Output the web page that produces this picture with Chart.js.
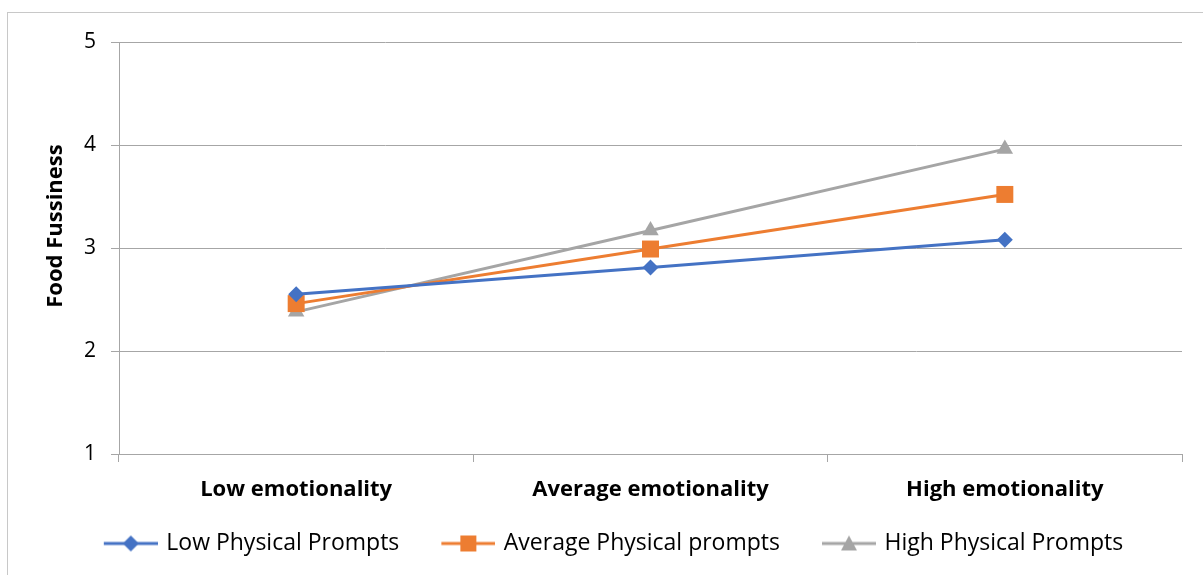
<!DOCTYPE html>
<html>
<head>
<meta charset="utf-8">
<script src="https://cdn.jsdelivr.net/npm/chart.js@4.4.1/dist/chart.umd.min.js"></script>
<style>
  body { margin: 0; background: #fff; }
  #frame { position: absolute; left: 7px; top: 12px; width: 1200px; height: 570px; border: 1px solid #c8c8c8; }
  #wrap { position: absolute; left: 0; top: 0; width: 1203px; height: 575px; }
</style>
</head>
<body>
<div id="frame"></div>
<div id="wrap"><canvas id="chart"></canvas></div>
<script>
const categories = ["Low emotionality", "Average emotionality", "High emotionality"];
const lowPhysical = [2.55, 2.81, 3.08];
const averagePhysical = [2.46, 2.99, 3.52];
const highPhysical = [2.38, 3.17, 3.96];
const yTicks = [1, 2, 3, 4, 5];
const seriesNames = ["Low Physical Prompts", "Average Physical prompts", "High Physical Prompts"];
const yTitle = "Food Fussiness";

const colors = ["#4472C4", "#ED7D31", "#A5A5A5"];
const markers = ["rectRot", "rect", "triangle"];
const markerSizes = [8, 12, 9.5];
const gridColor = "#a6a6a6";
const fontFamily = "'Open Sans', sans-serif";

// line + marker icons for the legend, with some blank space on the left
// so the items sit further apart than labels.padding alone would give
const iconGap = 27;
function legendIcon(color, shape) {
  const c = document.createElement("canvas");
  c.width = 54 + iconGap; c.height = 20;
  const g = c.getContext("2d");
  g.translate(iconGap, 0);
  g.strokeStyle = color; g.fillStyle = color; g.lineWidth = 3;
  g.beginPath(); g.moveTo(0, 10); g.lineTo(54, 10); g.stroke();
  g.beginPath();
  if (shape === "rectRot") {
    g.moveTo(27, 2); g.lineTo(35, 10); g.lineTo(27, 18); g.lineTo(19, 10);
  } else if (shape === "rect") {
    g.rect(19, 2, 16, 16);
  } else {
    g.moveTo(27, 2); g.lineTo(35, 17); g.lineTo(19, 17);
  }
  g.closePath(); g.fill();
  return c;
}
const legendIcons = colors.map((c, i) => legendIcon(c, markers[i]));

const seriesData = [lowPhysical, averagePhysical, highPhysical];

// y axis title, sitting a bit above the middle like the original
const yTitlePlugin = {
  id: "yTitle",
  afterDraw(chart) {
    const ctx = chart.ctx;
    ctx.save();
    ctx.translate(56, 226);
    ctx.rotate(-Math.PI / 2);
    ctx.font = "bold 22px " + fontFamily;
    ctx.fillStyle = "#000";
    ctx.textAlign = "center";
    ctx.textBaseline = "middle";
    ctx.fillText(yTitle, 0, 0);
    ctx.restore();
  }
};

new Chart("chart", {
  type: "line",
  data: {
    labels: categories,
    datasets: seriesData.map((d, i) => ({
      label: seriesNames[i],
      data: d,
      borderColor: colors[i],
      backgroundColor: colors[i],
      borderWidth: 3,
      pointStyle: markers[i],
      pointRadius: markerSizes[i],
      pointHoverRadius: markerSizes[i],
      pointBorderWidth: 0,
      tension: 0
    }))
  },
  options: {
    responsive: true,
    maintainAspectRatio: false,
    animation: false,
    layout: { padding: { top: 42, left: 0, right: 0, bottom: 10 } },
    plugins: {
      tooltip: { enabled: false },
      legend: {
        position: "bottom",
        labels: {
          usePointStyle: true,
          pointStyleWidth: 75,
          padding: 18,
          color: "#000",
          font: { family: fontFamily, size: 23 },
          generateLabels(chart) {
            return chart.data.datasets.map((ds, i) => ({
              text: ds.label,
              pointStyle: legendIcons[i],
              fillStyle: ds.borderColor,
              strokeStyle: ds.borderColor,
              lineWidth: 0,
              hidden: false,
              datasetIndex: i,
              fontColor: "#000"
            }));
          }
        }
      }
    },
    scales: {
      x: {
        offset: true,
        grid: { offset: true, drawOnChartArea: false, drawTicks: true, tickLength: 8, color: gridColor },
        border: { display: true, color: gridColor },
        ticks: { color: "#000", padding: 15, maxRotation: 0, font: { family: fontFamily, size: 22, weight: "bold" } },
        afterFit(scale) { scale.height = 60; }
      },
      y: {
        min: 1,
        max: 5,
        afterBuildTicks(scale) { scale.ticks = yTicks.map(v => ({ value: v })); },
        grid: { color: gridColor, tickLength: 8 },
        border: { display: true, color: gridColor },
        ticks: { color: "#000", padding: 15, font: { family: fontFamily, size: 21 } },
        afterFit(scale) { scale.width = 119; }
      },
      // empty right-hand strip so the plot stops short of the frame
      yRight: {
        position: "right",
        display: true,
        grid: { display: false },
        border: { display: false },
        ticks: { display: false },
        afterFit(scale) { scale.width = 21; }
      }
    }
  },
  plugins: [yTitlePlugin]
});
</script>
</body>
</html>
